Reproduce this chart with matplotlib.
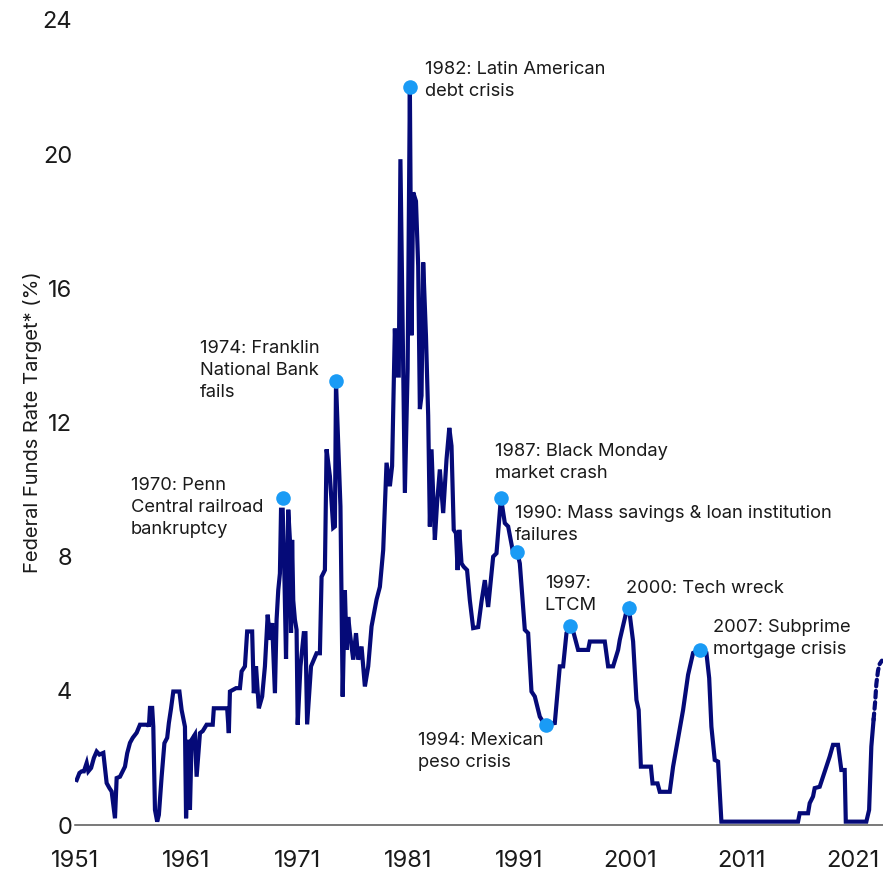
import matplotlib.pyplot as plt

plt.rcParams['font.family'] = ['Inter', 'DejaVu Sans']

# fed funds rate (decimal year, %)
years = [1951.15, 1951.4, 1951.6, 1951.8, 1952.05, 1952.2, 1952.45, 1952.7, 1952.95, 1953.2,
         1953.55, 1953.7, 1953.85, 1954.1, 1954.3, 1954.6, 1954.75, 1955.05, 1955.35, 1955.5,
         1955.7, 1955.95, 1956.2, 1956.55, 1956.85, 1957.6, 1957.65, 1957.75, 1957.95, 1958.05,
         1958.2, 1958.4, 1958.55, 1958.8, 1959.05, 1959.3, 1959.45, 1959.65, 1959.85, 1960.4,
         1960.6, 1960.9, 1961.0, 1961.2, 1961.35, 1961.5, 1961.8, 1961.95, 1962.25, 1962.5,
         1962.85, 1963.4, 1963.5, 1964.7, 1964.85, 1964.95, 1965.5, 1965.85, 1966.0, 1966.3,
         1966.5, 1966.95, 1967.1, 1967.3, 1967.55, 1967.85, 1968.1, 1968.35, 1968.55, 1968.75,
         1969.0, 1969.15, 1969.3, 1969.45, 1969.55, 1969.7, 1969.85, 1970.0, 1970.2, 1970.35,
         1970.45, 1970.55, 1970.65, 1970.8, 1970.95, 1971.05, 1971.3, 1971.6, 1971.75, 1971.9,
         1972.25, 1972.75, 1973.05, 1973.2, 1973.5, 1973.65, 1973.95, 1974.25, 1974.4, 1974.5,
         1974.9, 1975.1, 1975.3, 1975.45, 1975.6, 1975.75, 1976.05, 1976.3, 1976.5, 1976.8,
         1977.1, 1977.4, 1977.7, 1978.15, 1978.45, 1978.75, 1979.05, 1979.35, 1979.55, 1979.8,
         1979.95, 1980.15, 1980.3, 1980.7, 1980.95, 1981.15, 1981.3, 1981.45, 1981.7, 1981.9,
         1982.05, 1982.2, 1982.35, 1982.6, 1982.8, 1982.95, 1983.1, 1983.4, 1983.6, 1983.85,
         1984.15, 1984.45, 1984.7, 1984.9, 1985.1, 1985.3, 1985.45, 1985.6, 1985.8, 1986.0,
         1986.3, 1986.55, 1986.85, 1987.3, 1987.6, 1987.9, 1988.2, 1988.65, 1988.95, 1989.35,
         1989.7, 1990.0, 1990.4, 1990.8, 1991.05, 1991.5, 1991.8, 1992.1, 1992.4, 1992.85,
         1993.3, 1994.2, 1994.65, 1994.95, 1995.25, 1995.55, 1995.9, 1996.3, 1997.2, 1997.35,
         1998.7, 1999.0, 1999.45, 1999.9, 2000.05, 2000.6, 2000.87, 2001.25, 2001.55, 2001.75,
         2001.95, 2002.85, 2003.0, 2003.45, 2003.65, 2004.55, 2004.85, 2005.3, 2005.75, 2006.2,
         2006.65, 2007.25, 2007.85, 2008.1, 2008.3, 2008.6, 2008.9, 2009.2, 2016.1, 2016.25,
         2017.0, 2017.15, 2017.45, 2017.6, 2018.05, 2018.35, 2018.65, 2018.95, 2019.25, 2019.7,
         2020.0, 2020.3, 2020.4, 2022.25, 2022.5, 2022.7, 2022.9]
rates = [1.34, 1.55, 1.6, 1.6, 1.85, 1.6, 1.7, 2.0, 2.19, 2.1,
         2.15, 1.7, 1.25, 1.1, 1.0, 0.2, 1.4, 1.44, 1.64, 1.74,
         2.14, 2.45, 2.6, 2.75, 2.99, 2.99, 2.93, 3.49, 3.49, 2.93,
         0.45, 0.1, 0.3, 1.44, 2.44, 2.6, 3.04, 3.48, 3.98, 3.98,
         3.43, 2.93, 0.2, 2.54, 0.45, 2.54, 2.7, 1.44, 2.74, 2.8,
         2.99, 2.99, 3.48, 3.48, 2.74, 3.98, 4.08, 4.08, 4.58, 4.73,
         5.77, 5.77, 3.93, 4.73, 3.48, 3.83, 4.73, 6.27, 5.52, 6.02,
         3.93, 6.12, 7.0, 7.5, 9.4, 9.4, 7.5, 4.95, 9.4, 8.5,
         5.73, 8.5, 6.7, 6.12, 5.82, 2.99, 4.73, 5.72, 5.72, 3.0,
         4.73, 5.12, 5.12, 7.4, 7.6, 11.2, 10.4, 8.86, 8.9, 13.2,
         9.5, 3.83, 7.0, 5.22, 6.2, 5.72, 4.93, 5.72, 4.93, 5.32,
         4.13, 4.73, 5.92, 6.72, 7.1, 8.2, 10.8, 10.1, 10.7, 14.8,
         13.4, 13.4, 19.85, 9.9, 13.6, 22.0, 14.6, 18.86, 18.6, 16.66,
         12.4, 12.8, 16.77, 14.58, 12.2, 8.9, 11.2, 8.5, 9.6, 10.6,
         9.3, 10.9, 11.84, 11.3, 8.8, 8.7, 7.6, 8.8, 7.8, 7.7,
         7.6, 6.7, 5.87, 5.9, 6.66, 7.3, 6.5, 8.0, 8.1, 9.76,
         9.0, 8.9, 8.2, 8.15, 7.8, 5.82, 5.72, 3.98, 3.83, 3.23,
         2.99, 3.04, 4.73, 4.73, 5.72, 5.94, 5.72, 5.22, 5.22, 5.47,
         5.47, 4.73, 4.73, 5.22, 5.52, 6.3, 6.48, 5.47, 3.73, 3.43,
         1.74, 1.74, 1.24, 1.24, 0.99, 0.99, 1.74, 2.59, 3.43, 4.48,
         5.13, 5.22, 5.13, 4.38, 2.93, 1.94, 1.89, 0.1, 0.1, 0.35,
         0.35, 0.65, 0.85, 1.1, 1.14, 1.44, 1.74, 2.04, 2.39, 2.39,
         1.64, 1.64, 0.1, 0.1, 0.45, 2.34, 3.13]

# projected path (dashed)
proj_years = [2022.9, 2023.05, 2023.15, 2023.3, 2023.45, 2023.65]
proj_rates = [3.13, 3.7, 4.2, 4.6, 4.8, 4.9]

# highlighted events
event_years = [1969.72, 1974.5, 1981.15, 1989.35, 1990.8, 1993.4, 1995.55, 2000.87, 2007.25]
event_rates = [9.76, 13.25, 22.0, 9.76, 8.15, 2.99, 5.94, 6.48, 5.22]
event_labels = ["1970: Penn\nCentral railroad\nbankruptcy",
                "1974: Franklin\nNational Bank\nfails",
                "1982: Latin American\ndebt crisis",
                "1987: Black Monday\nmarket crash",
                "1990: Mass savings & loan institution\nfailures",
                "1994: Mexican\npeso crisis",
                "1997:\nLTCM",
                "2000: Tech wreck",
                "2007: Subprime\nmortgage crisis"]
# label offsets in pixels (left edge, block centre) from the dot
label_offsets = [(-152, -10), (-136, 10), (15, 7), (-6, 35), (-2, 27),
                 (-128, -27), (-25, 31), (-3, 19), (13, 11)]

navy = '#050a78'
dot = '#1a9bf5'

fig = plt.figure(figsize=(8.83, 8.71), dpi=100)
ax = fig.add_axes([75 / 883, 46 / 871, 808 / 883, 805 / 871])

ax.plot(years, rates, color=navy, lw=3.0, solid_joinstyle='miter', zorder=2)
ax.plot(proj_years, proj_rates, color=navy, lw=3.0, linestyle=(0, (1.6, 1.1)),
        dash_capstyle='round', zorder=2)
ax.scatter(event_years, event_rates, s=110, color=dot, zorder=3, linewidths=0)

for x, y, lab, (dx, dy) in zip(event_years, event_rates, event_labels, label_offsets):
    ax.annotate(lab, (x, y), xytext=(dx, dy), textcoords='offset pixels',
                ha='left', va='center', fontsize=13.2, color='#1a1a1a',
                linespacing=1.38)

ax.set_xlim(1951, 2023.75)
ax.set_ylim(0, 24)
ax.set_xticks(range(1951, 2022, 10))
ax.set_yticks(range(0, 25, 4))
ax.tick_params(length=0, labelsize=17, labelcolor='#1a1a1a')
ax.tick_params(axis='x', pad=18)
ax.tick_params(axis='y', pad=2)

for s in ['top', 'right', 'left']:
    ax.spines[s].set_visible(False)
ax.spines['bottom'].set_color('#555555')
ax.spines['bottom'].set_linewidth(1.1)

ax.set_ylabel("Federal Funds Rate Target* (%)", fontsize=14.5, color='#1a1a1a', va='center')
ax.yaxis.set_label_coords(-0.052, 0.5)

fig.savefig('out.png', dpi=100)
